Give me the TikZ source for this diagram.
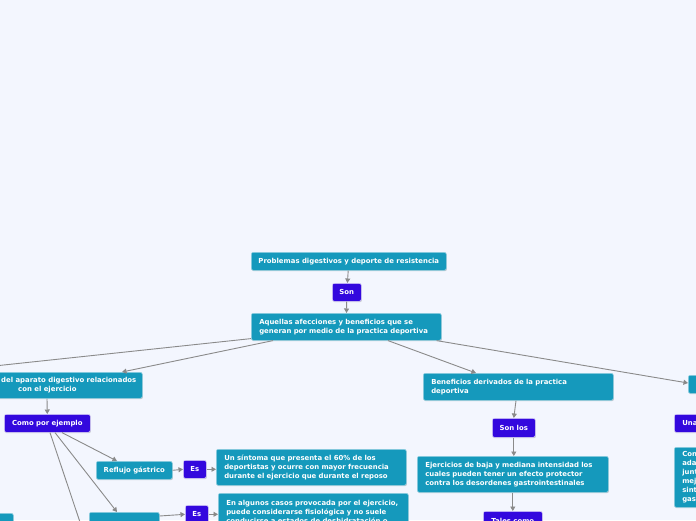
\documentclass[tikz,border=0pt]{standalone}
\usepackage{fontspec}
\setmainfont{DejaVu Sans}
\usetikzlibrary{arrows.meta,shadows}
\definecolor{bgc}{HTML}{F3F6FE}
\definecolor{tealc}{HTML}{1599BC}
\definecolor{purpc}{HTML}{3308DE}
\definecolor{edgec}{HTML}{8A8A8A}
\tikzset{
  base/.style={rounded corners=2pt, line width=0.6pt, text=white,
    font=\fontsize{6.9}{9}\selectfont\bfseries, inner xsep=0pt, inner ysep=0pt,
    anchor=north west,
    drop shadow={shadow xshift=0.6pt, shadow yshift=-0.9pt, fill=black, opacity=0.18}},
  tealbox/.style={base, fill=tealc, draw=white!55!tealc},
  purpbox/.style={base, fill=purpc, draw=white!85!purpc},
  leftbox/.style={inner xsep=8pt, align=left},
  txt/.style={text=white, font=\fontsize{6.9}{9}\selectfont\bfseries, inner sep=0pt, align=left},
  edge/.style={draw=edgec, line width=0.9pt, -{Triangle[width=5pt,length=4.5pt]}},
}
\begin{document}
\begin{tikzpicture}[x=1pt,y=-1pt]
\useasboundingbox (0,0) rectangle (696,520);
\fill[bgc] (0,0) rectangle (696,520);
\clip (0,0) rectangle (696,520);

% centre
\node[tealbox, minimum width=195pt, minimum height=18pt] (n1) at (251,252) {Problemas digestivos y deporte de resistencia};
\node[purpbox, minimum width=29pt, minimum height=18pt] (n2) at (332,283) {Son};
\node[tealbox, leftbox, text width=174pt, minimum height=27pt] (n3) at (251,313) {Aquellas afecciones y beneficios que se\\generan por medio de la practica deportiva};

% left branch
\node[tealbox, minimum width=202pt, minimum height=26pt] (n4) at (-60,372) {};
\node[txt, anchor=west] (n4t) at (1,385) {del aparato digestivo relacionados\\\hspace*{17pt}con el ejercicio};
\node[purpbox, minimum width=86pt, minimum height=18pt] (n5) at (4,414) {Como por ejemplo};
\node[tealbox, minimum width=76pt, minimum height=18pt] (n6) at (96,461) {Reflujo gástrico};
\node[purpbox, minimum width=23pt, minimum height=18pt] (n7) at (183,460) {Es};
\node[tealbox, leftbox, text width=174pt, minimum height=36pt] (n8) at (216,449) {Un síntoma que presenta el 60\% de los\\deportistas y ocurre con mayor frecuencia\\durante el ejercicio que durante el reposo};
\node[tealbox, minimum width=70pt, minimum height=30pt] (n9) at (89,512) {};
\node[purpbox, minimum width=23pt, minimum height=18pt] (n10) at (185,505) {Es};
\node[tealbox, leftbox, text width=174pt, inner ysep=6.5pt] (n11) at (218,493) {En algunos casos provocada por el ejercicio,\\puede considerarse fisiológica y no suele\\conducirse a estados de deshidratación o};
\node[tealbox, minimum width=63pt, minimum height=30pt] (n19) at (-50,513) {};

% right-centre branch
\node[tealbox, leftbox, text width=174pt, minimum height=27pt] (n12) at (423,373) {Beneficios derivados de la practica\\deportiva};
\node[purpbox, minimum width=43pt, minimum height=19pt] (n13) at (492,418) {Son los};
\node[tealbox, leftbox, text width=175pt, minimum height=36pt] (n14) at (417,456) {Ejercicios de baja y mediana intensidad los\\cuales pueden tener un efecto protector\\contra los desordenes gastrointestinales};
\node[purpbox, minimum width=59pt, minimum height=20pt] (n15) at (483,511) {Tales como};

% far right branch
\node[tealbox, minimum width=60pt, minimum height=18pt] (n16) at (688,375) {};
\node[purpbox, leftbox, text width=44pt, minimum height=18pt] (n17) at (674,414) {Una};
\node[tealbox, leftbox, text width=44pt, minimum height=60pt] (n18) at (674,447) {Con\\ada\\junt\\mej\\sint\\gas};

\coordinate (offL) at (-62,372);
\coordinate (offB) at (86,540);

% connectors
\draw[edge] (n1) -- (n2);
\draw[edge] (n2) -- (n3);
\draw[edge] ([yshift=2pt]n3.south west) -- (offL);
\draw[edge] ([xshift=22pt]n3.south west) -- ([xshift=182pt]n4.north west);
\draw[edge] ([xshift=137pt]n3.south west) -- ([xshift=53pt]n12.north west);
\draw[edge] ([xshift=-5pt]n3.south east) -- ([yshift=-8pt]n16.north west);
\draw[edge] ([xshift=107pt]n4.south west) -- (n5.north);
\draw[edge] ([xshift=58pt]n5.south west) -- ([xshift=21pt]n6.north west);
\draw[edge] ([xshift=51pt]n5.south west) -- ([xshift=28pt]n9.north west);
\draw[edge] ([xshift=46pt]n5.south west) -- (offB);
\draw[edge] (n6.east) -- (n7.west);
\draw[edge] (n7.east) -- (n7.east -| n8.west);
\draw[edge] ([yshift=-4pt]n9.north east) -- (n10.west);
\draw[edge] (n10.east) -- (n10.east -| n11.west);
\draw[edge] ([xshift=93pt]n12.south west) -- (n13.north);
\draw[edge] (n13.south) -- (n13.south |- n14.north);
\draw[edge] (n14.south) -- (n15.north);
\end{tikzpicture}
\end{document}
